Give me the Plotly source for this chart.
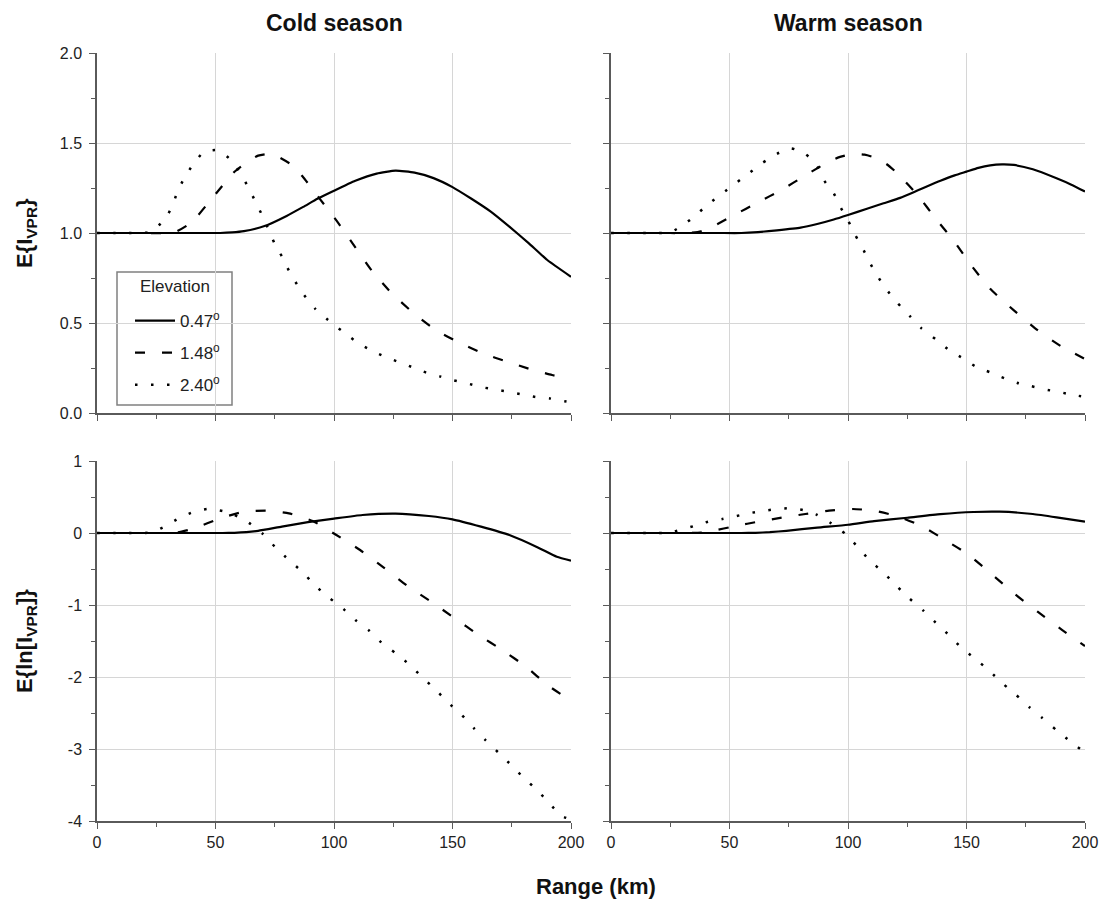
import plotly.graph_objects as go

# ---- Cold season: expected VPR correction factor E{I_VPR} ----
cold_I_047_x = [0, 45, 52, 57, 62, 71, 80, 87, 93, 100, 109, 118, 126, 134, 142, 150, 158, 166, 174, 182, 190, 200]
cold_I_047_y = [1.0, 1.0, 1.0, 1.003, 1.01, 1.04, 1.095, 1.145, 1.19, 1.235, 1.29, 1.33, 1.346, 1.335, 1.305, 1.255, 1.19, 1.12, 1.035, 0.945, 0.85, 0.757]

cold_I_148_x = [0, 20, 28, 33, 40, 49, 58, 64, 68, 73, 77, 82, 87, 94, 101, 109, 116, 124, 134, 143, 153, 163, 173, 183, 192, 200]
cold_I_148_y = [1.0, 1.0, 1.0, 1.005, 1.06, 1.2, 1.34, 1.40, 1.43, 1.44, 1.42, 1.38, 1.31, 1.19, 1.07, 0.92, 0.79, 0.67, 0.55, 0.46, 0.39, 0.33, 0.285, 0.243, 0.211, 0.19]

cold_I_240_x = [0, 12, 18, 22, 25, 29, 32, 34, 37, 40.5, 45, 51, 57, 61, 64, 67, 70, 72, 75, 78, 81, 86, 92, 99, 105, 110, 116, 122, 128, 134, 139, 145, 150, 156, 162, 168, 174, 179, 185, 191, 196, 200]
cold_I_240_y = [1.0, 1.0, 1.0, 1.005, 1.03, 1.08, 1.16, 1.23, 1.31, 1.38, 1.45, 1.46, 1.40, 1.32, 1.25, 1.17, 1.09, 1.03, 0.94, 0.87, 0.79, 0.68, 0.58, 0.50, 0.44, 0.39, 0.346, 0.31, 0.28, 0.25, 0.224, 0.202, 0.183, 0.165, 0.144, 0.131, 0.117, 0.104, 0.089, 0.081, 0.068, 0.06]

# ---- Warm season: E{I_VPR} ----
warm_I_047_x = [0, 45, 55, 62, 70, 80, 87, 94, 100, 108, 115, 122, 130, 139, 145, 150, 155, 160, 165, 170, 178, 188, 194, 200]
warm_I_047_y = [1.0, 1.0, 1.0, 1.005, 1.015, 1.03, 1.05, 1.075, 1.10, 1.135, 1.165, 1.195, 1.24, 1.29, 1.32, 1.341, 1.362, 1.376, 1.381, 1.378, 1.354, 1.304, 1.27, 1.23]

warm_I_148_x = [0, 25, 33, 38, 42, 52, 62, 72, 82, 91, 96, 102, 107, 111, 116, 121, 130, 137, 145, 152, 160, 170, 180, 190, 200]
warm_I_148_y = [1.0, 1.0, 1.0, 1.01, 1.03, 1.10, 1.17, 1.24, 1.32, 1.39, 1.42, 1.44, 1.435, 1.42, 1.385, 1.33, 1.20, 1.08, 0.95, 0.82, 0.69, 0.57, 0.46, 0.37, 0.30]

warm_I_240_x = [0, 15, 22, 26, 30, 35, 41, 47, 53, 58, 64, 70, 76, 82, 87, 90, 94, 97, 100, 103, 106, 109, 112, 116, 121, 126, 131, 137, 143, 149, 154, 160, 166, 172, 177, 183, 189, 195, 200]
warm_I_240_y = [1.0, 1.0, 1.0, 1.01, 1.04, 1.09, 1.16, 1.22, 1.28, 1.33, 1.39, 1.44, 1.47, 1.44, 1.37, 1.29, 1.22, 1.14, 1.07, 0.99, 0.92, 0.84, 0.77, 0.69, 0.61, 0.54, 0.47, 0.41, 0.346, 0.30, 0.257, 0.226, 0.193, 0.165, 0.15, 0.131, 0.117, 0.10, 0.09]

# ---- Cold season: E{ln[I_VPR]} ----
cold_ln_047_x = [0, 45, 53, 58, 63, 68, 78, 89, 100, 112, 126, 140, 150, 162, 174, 186, 194, 200]
cold_ln_047_y = [0, 0, 0, 0.003, 0.012, 0.03, 0.088, 0.15, 0.20, 0.25, 0.27, 0.236, 0.19, 0.088, -0.028, -0.20, -0.33, -0.385]

cold_ln_148_x = [0, 20, 28, 34, 41, 52, 62, 72, 81, 91, 101, 111, 121, 131, 141, 151, 161, 171, 181, 190, 200]
cold_ln_148_y = [0, 0, 0, 0.008, 0.065, 0.204, 0.296, 0.31, 0.273, 0.167, -0.028, -0.236, -0.48, -0.736, -0.954, -1.185, -1.417, -1.625, -1.857, -2.11, -2.33]

cold_ln_240_x = [0, 12, 18, 22, 25, 29, 35, 41, 47, 53, 58, 64, 70, 75, 81, 87, 92, 98, 104, 109, 115, 120, 126, 132, 137, 143, 148, 154, 159, 164, 170, 175, 180, 186, 191, 196, 200]
cold_ln_240_y = [0, 0, 0, 0.005, 0.035, 0.097, 0.213, 0.296, 0.335, 0.306, 0.25, 0.143, -0.014, -0.19, -0.375, -0.551, -0.73, -0.90, -1.056, -1.208, -1.361, -1.52, -1.67, -1.833, -1.995, -2.18, -2.35, -2.53, -2.71, -2.88, -3.07, -3.23, -3.40, -3.58, -3.76, -3.93, -3.98]

# ---- Warm season: E{ln[I_VPR]} ----
warm_ln_047_x = [0, 45, 55, 61, 67, 74, 87, 100, 111, 125, 139, 153, 164, 178, 188, 200]
warm_ln_047_y = [0, 0, 0, 0.003, 0.012, 0.03, 0.075, 0.115, 0.165, 0.212, 0.262, 0.292, 0.296, 0.264, 0.218, 0.157]

warm_ln_148_x = [0, 25, 33, 38, 42, 53, 62, 72, 82, 92, 102, 111, 121, 131, 141, 151, 161, 170, 180, 190, 200]
warm_ln_148_y = [0, 0, 0, 0.006, 0.025, 0.10, 0.157, 0.213, 0.264, 0.31, 0.333, 0.31, 0.23, 0.097, -0.097, -0.306, -0.583, -0.838, -1.093, -1.338, -1.57]

warm_ln_240_x = [0, 15, 22, 26, 30, 35, 41, 47, 53, 58, 64, 70, 75.5, 81, 87, 93, 99, 104, 109, 115, 120.5, 126, 132, 137, 143, 148, 154, 160, 165.5, 171, 176.5, 182, 188, 194, 200]
warm_ln_240_y = [0, 0, 0, 0.015, 0.05, 0.097, 0.157, 0.194, 0.236, 0.273, 0.306, 0.333, 0.343, 0.319, 0.25, 0.134, -0.014, -0.19, -0.375, -0.55, -0.736, -0.912, -1.083, -1.245, -1.43, -1.60, -1.755, -1.926, -2.097, -2.25, -2.42, -2.57, -2.74, -2.90, -3.05]

elevation_labels = ["0.47<sup>o</sup>", "1.48<sup>o</sup>", "2.40<sup>o</sup>"]
legend_title = "Elevation"
column_titles = ["Cold season", "Warm season"]
x_title = "Range (km)"
y_titles = ["E{I<sub>VPR</sub>}", "E{ln[I<sub>VPR</sub>]}"]
x_ticks = [0, 50, 100, 150, 200]
top_y_ticks = [0.0, 0.5, 1.0, 1.5, 2.0]
bottom_y_ticks = [-4, -3, -2, -1, 0, 1]

W, H = 1104, 901
FONT = "Arial, 'Liberation Sans', sans-serif"

line_styles = [
    dict(color="black", width=2.2, dash="solid"),
    dict(color="black", width=2.2, dash="10px,17px"),
    dict(color="black", width=2.5, dash="2.5px,13.5px"),
]

panels = [
    ("x", "y", [(cold_I_047_x, cold_I_047_y), (cold_I_148_x, cold_I_148_y), (cold_I_240_x, cold_I_240_y)]),
    ("x2", "y2", [(warm_I_047_x, warm_I_047_y), (warm_I_148_x, warm_I_148_y), (warm_I_240_x, warm_I_240_y)]),
    ("x3", "y3", [(cold_ln_047_x, cold_ln_047_y), (cold_ln_148_x, cold_ln_148_y), (cold_ln_240_x, cold_ln_240_y)]),
    ("x4", "y4", [(warm_ln_047_x, warm_ln_047_y), (warm_ln_148_x, warm_ln_148_y), (warm_ln_240_x, warm_ln_240_y)]),
]

fig = go.Figure()
for p, (xa, ya, series) in enumerate(panels):
    for k, (xs, ys) in enumerate(series):
        fig.add_trace(go.Scatter(
            x=xs, y=ys, mode="lines", xaxis=xa, yaxis=ya,
            line=dict(shape="spline", smoothing=0.5, **line_styles[k]),
            name=elevation_labels[k], legendgroup=str(k),
            showlegend=(p == 0), hoverinfo="skip",
        ))

# plot-area placement in pixels
col_px = [(97, 571), (611, 1085)]
row_px = [(53, 413), (461, 821)]

def xdom(c):
    a, b = col_px[c]
    return [a / W, b / W]

def ydom(r):
    a, b = row_px[r]
    return [1 - b / H, 1 - a / H]

AXCOL = "#5a5a5a"
GRID = "#d6d6d6"
tickfont = dict(family=FONT, size=16, color="#222")

def xaxis(c, r, anchor):
    return dict(
        domain=xdom(c), anchor=anchor, range=[0, 200],
        tickmode="array", tickvals=x_ticks, ticktext=[str(v) for v in x_ticks],
        showgrid=True, gridcolor=GRID, gridwidth=1, zeroline=False,
        showline=True, linecolor=AXCOL, linewidth=1.5,
        ticks="outside", ticklen=6, tickcolor=AXCOL, tickwidth=1.2,
        minor=dict(ticks="outside", ticklen=4, dtick=25, tick0=0, tickcolor=AXCOL, showgrid=False),
        showticklabels=(r == 1), tickfont=tickfont, automargin=False,
    )

def yaxis(c, r, anchor):
    if r == 0:
        rng, vals, mdt = [0, 2.0], top_y_ticks, 0.25
        txt = ["%.1f" % v for v in vals]
    else:
        rng, vals, mdt = [-4, 1], bottom_y_ticks, 0.5
        txt = ["%d" % v for v in vals]
    return dict(
        domain=ydom(r), anchor=anchor, range=rng,
        tickmode="array", tickvals=vals, ticktext=txt,
        showgrid=True, gridcolor=GRID, gridwidth=1, zeroline=False,
        showline=True, linecolor=AXCOL, linewidth=1.5,
        ticks="outside", ticklen=6, tickcolor=AXCOL, tickwidth=1.2,
        minor=dict(ticks="outside", ticklen=4, dtick=mdt, tick0=0, tickcolor=AXCOL, showgrid=False),
        showticklabels=(c == 0), tickfont=tickfont, ticklabelstandoff=4, automargin=False,
    )

layout_axes = {}
for i, (c, r) in enumerate([(0, 0), (1, 0), (0, 1), (1, 1)]):
    suf = "" if i == 0 else str(i + 1)
    layout_axes["xaxis" + suf] = xaxis(c, r, "y" + suf)
    layout_axes["yaxis" + suf] = yaxis(c, r, "x" + suf)

annotations = []
for c, t in enumerate(column_titles):
    a, b = col_px[c]
    annotations.append(dict(
        text="<b>%s</b>" % t, x=(a + b) / 2 / W, y=1 - 23 / H, xref="paper", yref="paper",
        showarrow=False, font=dict(family=FONT, size=23, color="#111"),
        xanchor="center", yanchor="middle",
    ))
annotations.append(dict(
    text="<b>%s</b>" % x_title, x=596 / W, y=1 - 886 / H, xref="paper", yref="paper",
    showarrow=False, font=dict(family=FONT, size=22, color="#111"),
    xanchor="center", yanchor="middle",
))
for r, t in enumerate(y_titles):
    a, b = row_px[r]
    annotations.append(dict(
        text="<b>%s</b>" % t, x=26 / W, y=1 - ((a + b) / 2) / H, xref="paper", yref="paper",
        showarrow=False, textangle=-90, font=dict(family=FONT, size=22, color="#111"),
        xanchor="center", yanchor="middle",
    ))
# legend heading, placed inside the legend frame
annotations.append(dict(
    text=legend_title, x=175 / W, y=1 - 286 / H, xref="paper", yref="paper",
    showarrow=False, font=dict(family=FONT, size=17, color="#222"),
    xanchor="center", yanchor="middle",
))

# frame around the legend
shapes = [dict(
    type="rect", xref="paper", yref="paper",
    x0=117 / W, x1=232 / W, y0=1 - 405 / H, y1=1 - 272 / H,
    line=dict(color="#808080", width=1.5), fillcolor="white", layer="below",
)]

fig.update_layout(
    width=W, height=H, autosize=False, margin=dict(l=0, r=0, t=0, b=0, autoexpand=False),
    paper_bgcolor="white", plot_bgcolor="rgba(0,0,0,0)",
    font=dict(family=FONT, color="#222"),
    annotations=annotations, shapes=shapes,
    showlegend=True,
    legend=dict(
        x=130 / W, y=1 - 303 / H, xanchor="left", yanchor="top",
        bgcolor="rgba(0,0,0,0)", borderwidth=0,
        font=dict(family=FONT, size=17, color="#222"),
        itemwidth=40, tracegroupgap=7,
    ),
    **layout_axes,
)

fig.write_html(
    "out.html",
    config={"responsive": False, "displayModeBar": False},
    post_script=(
        "document.body.style.margin='0';"
        "var gd=document.getElementById('{plot_id}');"
        "gd.style.width='1104px';gd.style.height='901px';"
        "Plotly.relayout(gd,{width:1104,height:901});"
    ),
)
